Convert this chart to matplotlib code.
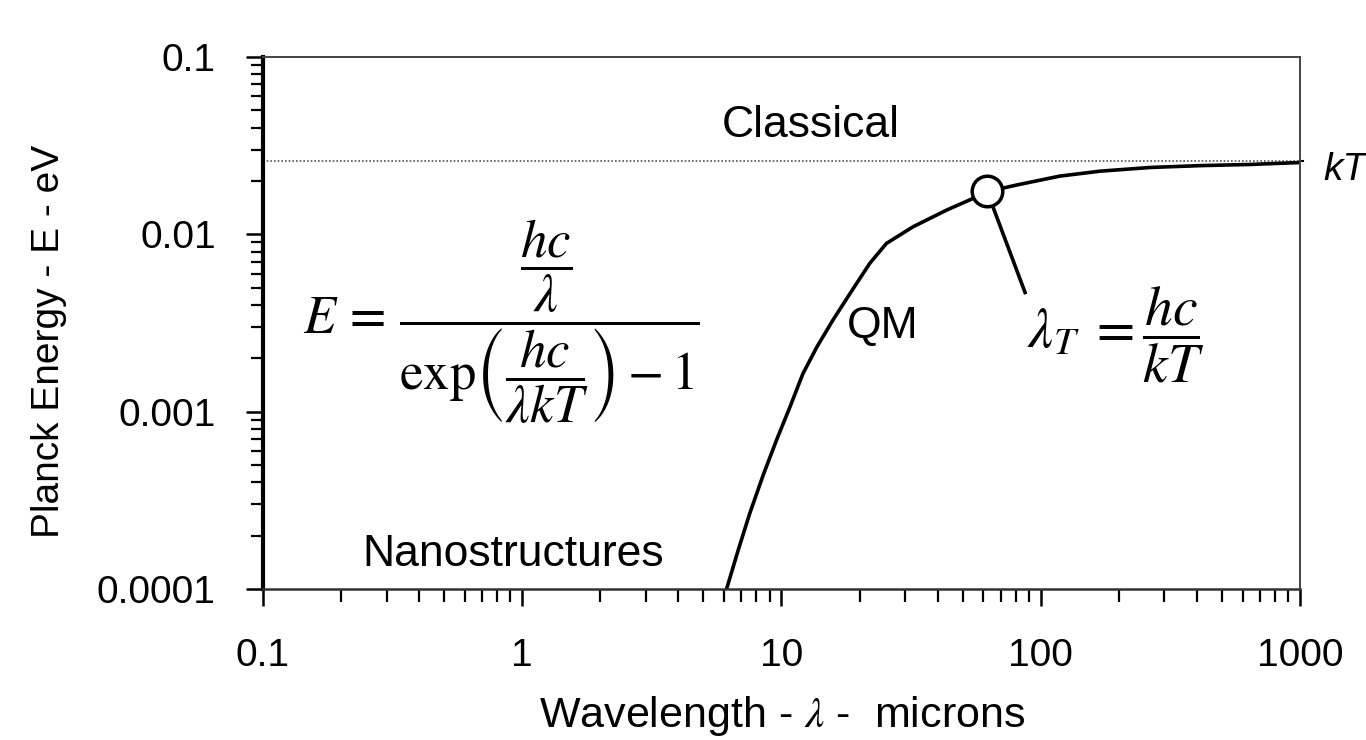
import matplotlib
matplotlib.use("Agg")
import matplotlib.pyplot as plt
from matplotlib.ticker import LogLocator, NullFormatter, FixedLocator, FixedFormatter

plt.rcParams['font.family'] = ['Liberation Sans', 'DejaVu Sans']
plt.rcParams['mathtext.fontset'] = 'stix'

# Curva QM (longitud de onda en micras, energia en eV)
wavelength = [6.14, 6.81, 7.55, 8.50, 9.57, 10.8, 12.1, 13.7, 15.8, 18.4, 21.9,
              25.4, 32.2, 43.4, 54.9, 62.1, 80.7, 118.5, 169, 264, 411, 640, 1000]
energy = [1.0e-4, 1.66e-4, 2.68e-4, 4.39e-4, 6.92e-4, 1.07e-3, 1.64e-3, 2.32e-3,
          3.29e-3, 4.65e-3, 6.86e-3, 8.89e-3, 0.01104, 0.01371, 0.01596, 0.0174,
          0.01897, 0.0213, 0.02270, 0.02382, 0.0244, 0.02477, 0.0254]

kT = 0.0259
lambda_T = 62
E_T = 0.0176

xticks = [0.1, 1, 10, 100, 1000]
xlabels = ["0.1", "1", "10", "100", "1000"]
yticks = [0.0001, 0.001, 0.01, 0.1]
ylabels = ["0.0001", "0.001", "0.01", "0.1"]

fig = plt.figure(figsize=(13.66, 7.40), dpi=100)
ax = fig.add_axes([0.1925, 0.204, 0.7592, 0.719])

ax.set_xscale('log')
ax.set_yscale('log')
ax.set_xlim(0.1, 1000)
ax.set_ylim(0.0001, 0.1)

# kT linea punteada
ax.plot([0.1, 1000], [kT, kT], color='#555555', lw=1.2, ls=(0, (1, 1.2)))
ax.plot([1000, 1030], [kT, kT], color='black', lw=1.5, clip_on=False)

# curva
ax.plot(wavelength, energy, color='black', lw=2.6, solid_capstyle='round',
        solid_joinstyle='round')

# linea guia y circulo
ax.plot([lambda_T, 87], [E_T, 0.0047], color='black', lw=2.6)
ax.plot([lambda_T], [E_T], marker='o', ms=22, mfc='white', mec='black', mew=2.5, zorder=5)

# ejes
ax.xaxis.set_major_locator(FixedLocator(xticks))
ax.xaxis.set_major_formatter(FixedFormatter(xlabels))
ax.yaxis.set_major_locator(FixedLocator(yticks))
ax.yaxis.set_major_formatter(FixedFormatter(ylabels))
ax.xaxis.set_minor_locator(LogLocator(base=10, subs=range(2, 10), numticks=20))
ax.yaxis.set_minor_locator(LogLocator(base=10, subs=range(2, 10), numticks=20))
ax.xaxis.set_minor_formatter(NullFormatter())
ax.yaxis.set_minor_formatter(NullFormatter())
ax.tick_params(which='major', direction='out', length=12, width=1.8, labelsize=28)
ax.tick_params(axis='x', which='major', pad=23)
ax.tick_params(axis='y', which='major', pad=22)
ax.tick_params(which='minor', direction='out', length=9, width=1.6)

for s in ['top', 'right']:
    ax.spines[s].set_color('#444444')
    ax.spines[s].set_linewidth(1.4)
ax.spines['bottom'].set_color('#333333')
ax.spines['bottom'].set_linewidth(1.8)
ax.spines['left'].set_linewidth(3.0)

ax.set_xlabel(r"Wavelength - $\lambda$ -  microns", fontsize=31)
ax.set_ylabel("Planck Energy - E - eV", fontsize=28)
ax.xaxis.set_label_coords(0.501, -0.198)
ax.yaxis.set_label_coords(-0.189, 0.466)

# textos
ax.text(0.528, 0.872, "Classical", transform=ax.transAxes, fontsize=32, ha='center', va='center')
ax.text(0.241, 0.064, "Nanostructures", transform=ax.transAxes, fontsize=32, ha='center', va='center')
ax.text(0.598, 0.494, "QM", transform=ax.transAxes, fontsize=32, ha='center', va='center')
ax.text(1.0434, 0.788, "kT", transform=ax.transAxes, fontsize=28, style='italic',
        ha='center', va='center')
ax.text(0.2295, 0.502,
        r"$E\,=\,\dfrac{\dfrac{hc}{\lambda}}{\exp\!\left(\dfrac{hc}{\lambda kT}\right)-1}$",
        transform=ax.transAxes, fontsize=38, ha='center', va='center')
ax.text(0.8226, 0.477, r"$\lambda_T\;=\dfrac{hc}{kT}$",
        transform=ax.transAxes, fontsize=40, ha='center', va='center')

fig.savefig("out.png", dpi=100)
